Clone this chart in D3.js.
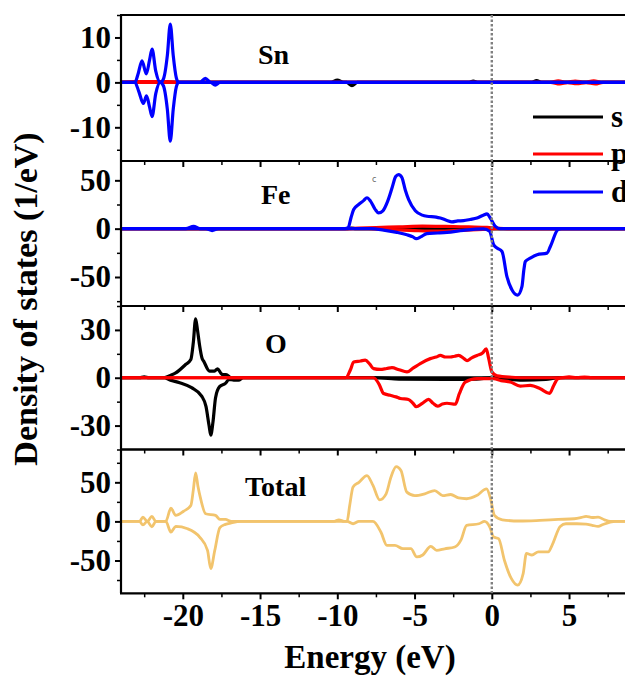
<!DOCTYPE html>
<html>
<head>
<meta charset="utf-8">
<script src="https://cdn.jsdelivr.net/npm/d3@7"></script>
<style>
  html, body { margin: 0; padding: 0; background: #fff; }
  svg { display: block; }
  .lbl { font-family: "Liberation Serif", "Times New Roman", serif; font-weight: bold; fill: #000; }
</style>
</head>
<body>
<svg id="chart" width="625" height="682"></svg>
<script>
// ---- Energy axis ----
const energyDomain = [-24, 10];
const energyTicks = [-20, -15, -10, -5, 0, 5];
const energyMinor = [-22.5, -17.5, -12.5, -7.5, -2.5, 2.5, 7.5];

// ---- Sn projected DOS (spin up > 0, spin down < 0) ----
const snSUp = [[-24,0],[-10.4,0],[-10,0.5],[-9.6,0],[-1.5,0],[-1.2,0.3],[-0.9,0],[2.6,0],[2.9,0.4],[3.2,0],[10,0]];
const snSDown = [[-24,0],[-9.4,0],[-9.05,-0.7],[-8.7,0],[10,0]];
const snPUp = [[-24,0],[-23,0.15],[-21,0.15],[-20,0],[3.8,0],[4.3,0.35],[4.8,0.05],[5.4,0.3],[6,0.05],[6.6,0.35],[7.1,0],[10,0]];
const snPDown = [[-24,0],[3.8,0],[4.4,-0.35],[4.9,-0.05],[5.5,-0.3],[6.1,-0.05],[6.7,-0.35],[7.2,0],[10,0]];
const snDUp = [[-24,0],[-23.1,0],[-22.9,1.8],[-22.64,4.8],[-22.36,1.9],[-22.15,5],[-21.99,7.4],[-21.75,2.5],[-21.46,0],[-21.25,0.8],[-21.0,6],[-20.81,13],[-20.62,6],[-20.42,1],[-20.27,0],[-18.9,0],[-18.54,0.9],[-18.2,0],[10,0]];
const snDDown = [[-24,0],[-23.1,0],[-22.85,-2],[-22.55,-4.7],[-22.35,-3],[-22.15,-5.5],[-21.99,-7.6],[-21.75,-2.5],[-21.46,0],[-21.25,-0.8],[-21.0,-6],[-20.81,-13.1],[-20.62,-6],[-20.42,-1],[-20.27,0],[-18.2,0],[-17.9,-0.6],[-17.6,0],[10,0]];

// ---- Fe projected DOS ----
const feSUp = [[-24,0],[-9.4,0],[-9.1,0.6],[-8.8,0],[10,0]];
const feSDown = [[-24,0],[10,0]];
const fePUp = [[-24,0],[-9.4,0],[-8.6,0.6],[-7.5,1.2],[-6,1.8],[-4.5,2.6],[-3,2.3],[-1.5,1.8],[-0.3,1.4],[0.3,0.6],[1,0],[10,0]];
const fePDown = [[-24,0],[-8,0],[-6.5,-1],[-5,-2],[-3.5,-2.6],[-2,-1.8],[-0.3,-0.6],[0.3,0],[10,0]];
const feDUp = [[-24,0],[-19.8,0],[-19.3,2.5],[-18.9,0],[-9.5,0],[-9.3,1],[-9.1,12],[-8.94,19.8],[-8.62,25],[-8.3,29],[-8.08,32],[-7.85,28.5],[-7.55,20],[-7.33,16.3],[-7.05,18.5],[-6.75,28],[-6.46,42],[-6.22,54],[-6.03,56],[-5.82,53],[-5.6,40],[-5.38,30],[-4.95,18.5],[-4.5,14],[-4.2,12.8],[-3.6,12],[-3.33,11],[-2.9,8.5],[-2.58,7],[-2.2,8],[-1.83,8.3],[-1.4,9.5],[-0.96,11],[-0.55,14],[-0.31,15.3],[-0.1,11],[0.23,2.4],[0.55,0],[10,0]];
const feDDown = [[-24,0],[-18.5,0],[-18.1,-2],[-17.7,0],[-7.8,0],[-7,-1.5],[-6.14,-3.8],[-5.49,-6.3],[-5.1,-8.5],[-4.89,-10.4],[-4.6,-8.5],[-4.2,-5.2],[-3.5,-4.5],[-2.9,-3.8],[-1.83,-1.7],[-0.53,-0.3],[-0.14,-2.8],[0.12,-16.7],[0.34,-20],[0.66,-23.6],[0.98,-49.6],[1.31,-63.5],[1.67,-68.8],[1.95,-60],[2.08,-42],[2.17,-34],[2.49,-30.5],[2.93,-27],[3.57,-25.3],[3.79,-18.4],[4.28,-1],[4.5,0],[10,0]];

// ---- O projected DOS ----
const oSUp = [[-24,0],[-22.8,0],[-22.5,0.6],[-22.2,0],[-21.24,0],[-20.8,1.5],[-20.46,3],[-19.82,8.3],[-19.48,11.4],[-19.32,22],[-19.17,36.9],[-19.05,30],[-18.91,20],[-18.75,12],[-18.65,10.4],[-18.27,4.2],[-17.95,4.2],[-17.75,5.6],[-17.55,3],[-17.44,2],[-17.2,2],[-16.86,0],[10,0]];
const oSDown = [[-24,0],[-21.24,0],[-20.8,-1.5],[-20.2,-3.1],[-19.43,-6.25],[-18.78,-11.5],[-18.5,-18],[-18.3,-30],[-18.19,-36],[-18.05,-28],[-17.88,-12.5],[-17.62,-5.6],[-17.24,-3.5],[-17.0,-1],[-16.7,-1.5],[-16.39,-1.5],[-16.1,0],[-7.5,0],[-6,-0.8],[-3,-1],[-1,-0.8],[0,0],[1,-1],[2,-1.5],[3.5,-1],[4.3,0],[10,0]];
const oPUp = [[-24,0],[-9.45,0],[-9.15,5],[-8.94,9.9],[-8.5,10.5],[-8.19,11],[-7.9,8.5],[-7.65,5.7],[-7.22,5.2],[-6.8,5.8],[-6.46,6.3],[-6,5],[-5.49,3.7],[-5.1,6],[-4.63,8.9],[-3.98,12],[-3.6,13],[-3.33,14],[-3,13],[-2.69,13],[-2.4,13.5],[-2.15,14],[-1.8,12],[-1.6,10.8],[-1.3,12.5],[-0.96,14],[-0.6,15.5],[-0.36,18.2],[-0.2,12],[0.01,3.6],[0.34,1.2],[1.3,0.3],[2,0],[4.5,0],[5,0.5],[5.5,0],[6,0.4],[6.5,0],[10,0]];
const oPDown = [[-24,0],[-7.65,0],[-7.3,-4],[-7.0,-9.9],[-6.57,-11],[-6.2,-12],[-5.92,-13],[-5.39,-13.6],[-5.1,-16],[-4.89,-18.2],[-4.5,-16],[-4.09,-13.6],[-3.8,-16],[-3.51,-17.8],[-3.2,-16.5],[-2.9,-16],[-2.36,-16.6],[-2.1,-10],[-1.72,-2.8],[-0.96,-0.6],[0.12,-0.6],[0.6,-1.8],[1.2,-2.7],[1.84,-5.2],[2.49,-4.8],[3.14,-6.9],[3.74,-9.8],[4.0,-5],[4.28,-0.6],[4.6,0],[10,0]];

// ---- Total DOS ----
const totUp = [[-24,0],[-22.8,0],[-22.58,5.5],[-22.3,0],[-22.0,6.4],[-21.75,0],[-21.1,0],[-20.77,17],[-20.46,7.7],[-19.95,13],[-19.48,20.4],[-19.32,40],[-19.17,62],[-19.02,45],[-18.87,31],[-18.52,9.8],[-17.88,7.7],[-17.6,2.5],[-17.24,2.5],[-16.86,0],[-10.2,0],[-9.9,2],[-9.55,0],[-9.37,0],[-9.2,20],[-8.98,44],[-8.6,50],[-8.08,58.7],[-7.69,46],[-7.26,27.6],[-6.84,35.3],[-6.53,56.5],[-6.19,70],[-5.88,65],[-5.5,37.4],[-4.98,33],[-4.34,35.3],[-3.7,39.5],[-3.18,33],[-2.66,34.4],[-2.15,30],[-1.63,29],[-0.98,33],[-0.34,41.7],[-0.08,29],[0.17,7.7],[0.68,2],[1.8,0.5],[3.1,1.3],[4.3,2.5],[5.34,3.4],[5.8,5],[6.1,6.4],[6.5,5],[6.88,5.5],[7.3,2],[7.66,0],[10,0]];
const totDown = [[-24,0],[-22.8,0],[-22.58,-4.5],[-22.3,0],[-22.0,-7],[-21.75,0],[-21.1,0],[-20.77,-13.6],[-20.46,-6.4],[-19.69,-9.4],[-18.91,-20],[-18.4,-37],[-18.19,-60.4],[-17.93,-37],[-17.6,-8],[-17.24,-3.8],[-16.86,-2],[-16.3,0],[-9.37,0],[-8.98,-3],[-8.6,0],[-7.69,0],[-7.18,-13.6],[-6.79,-30.6],[-6.27,-30.6],[-5.76,-34.9],[-5.24,-34.9],[-4.85,-45.5],[-4.47,-43],[-3.95,-32],[-3.57,-37],[-3.05,-35],[-2.4,-32.7],[-2.0,-24],[-1.63,-5],[-0.83,-3],[-0.47,0],[-0.13,-7.2],[0.12,-20],[0.44,-22],[0.82,-50],[1.26,-73],[1.67,-81.6],[2.03,-66.8],[2.24,-41],[2.6,-43],[3.01,-39],[3.66,-39],[3.9,-30.6],[4.43,-6.4],[4.8,-3],[5.5,-3],[6.1,-3.5],[6.5,-5],[6.88,-6.4],[7.2,-4],[7.66,-1],[8,0],[10,0]];

// ---- Series colours and labels ----
const orbitalNames = ["s", "p", "d"];
const orbitalColors = ["#000000", "#ff0000", "#0000ff"];
const totalColor = "#f2c46d";

const panels = [
  { name: "Sn", top: 15, bottom: 161, domain: [-17.5, 15], major: [-10, 0, 10], minor: [-15, -5, 5, 15],
    label: [258, 64],
    series: [[snSUp, 0], [snSDown, 0], [snPUp, 1], [snPDown, 1], [snDUp, 2], [snDDown, 2]] },
  { name: "Fe", top: 161, bottom: 306, domain: [-80, 70], major: [-50, 0, 50], minor: [-75, -25, 25],
    label: [261, 204],
    series: [[feSUp, 0], [feSDown, 0], [fePUp, 1], [fePDown, 1], [feDUp, 2], [feDDown, 2]] },
  { name: "O", top: 306, bottom: 449.5, domain: [-45, 45], major: [-30, 0, 30], minor: [-45, -15, 15, 45],
    label: [265, 353],
    series: [[oSUp, 0], [oSDown, 0], [oPUp, 1], [oPDown, 1]] },
  { name: "Total", top: 449.5, bottom: 593.3, domain: [-92, 92], major: [-50, 0, 50], minor: [-75, -25, 25, 75],
    label: [245, 496],
    series: [[totUp, -1], [totDown, -1]] }
];

const svg = d3.select("#chart");
const x = d3.scaleLinear().domain(energyDomain).range([121, 121 + 34 * 15.45]);
const xRight = x.range()[1];

panels.forEach((p, i) => {
  const y = d3.scaleLinear().domain(p.domain).range([p.bottom, p.top]);
  const g = svg.append("g");

  const clipId = "clip" + i;
  svg.append("clipPath").attr("id", clipId)
    .append("rect").attr("x", x.range()[0]).attr("y", p.top)
    .attr("width", xRight - x.range()[0]).attr("height", p.bottom - p.top);

  const line = d3.line().x(d => x(d[0])).y(d => y(d[1])).curve(d3.curveMonotoneX);
  const curves = g.append("g").attr("clip-path", `url(#${clipId})`);
  p.series.forEach(([data, k]) => {
    curves.append("path").datum(data)
      .attr("d", line)
      .attr("fill", "none")
      .attr("stroke", k < 0 ? totalColor : orbitalColors[k])
      .attr("stroke-width", k < 0 ? 2.8 : 3.2)
      .attr("stroke-linejoin", "round");
  });

  // left axis: major + minor ticks
  const yAxis = d3.axisLeft(y).tickValues(p.major).tickSize(6).tickPadding(4).tickFormat(d => String(d));
  const ya = g.append("g").attr("transform", `translate(${x.range()[0]},0)`).call(yAxis);
  ya.select(".domain").remove();
  ya.selectAll("line").attr("stroke", "#000").attr("stroke-width", 2);
  ya.selectAll("text").attr("class", "lbl").attr("font-size", 31).attr("fill", "#000");
  const yMinor = d3.axisLeft(y).tickValues(p.minor.filter(v => v >= p.domain[0] && v <= p.domain[1])).tickSize(4).tickFormat("");
  const ym = g.append("g").attr("transform", `translate(${x.range()[0]},0)`).call(yMinor);
  ym.select(".domain").remove();
  ym.selectAll("line").attr("stroke", "#000").attr("stroke-width", 1.5);

  // bottom axis: ticks outward, labels only on the last panel
  const last = i === panels.length - 1;
  const xAxis = d3.axisBottom(x).tickValues(energyTicks).tickSize(6).tickPadding(5)
    .tickFormat(last ? (d => String(d)) : "");
  const xa = g.append("g").attr("transform", `translate(0,${p.bottom})`).call(xAxis);
  xa.select(".domain").remove();
  xa.selectAll("line").attr("stroke", "#000").attr("stroke-width", 2);
  xa.selectAll("text").attr("class", "lbl").attr("font-size", 31).attr("fill", "#000");
  const xMinor = d3.axisBottom(x).tickValues(energyMinor).tickSize(4).tickFormat("");
  const xm = g.append("g").attr("transform", `translate(0,${p.bottom})`).call(xMinor);
  xm.select(".domain").remove();
  xm.selectAll("line").attr("stroke", "#000").attr("stroke-width", 1.5);

  // frame
  g.append("line").attr("x1", x.range()[0]).attr("x2", x.range()[0]).attr("y1", p.top).attr("y2", p.bottom)
    .attr("stroke", "#000").attr("stroke-width", 2.2);
  g.append("line").attr("x1", x.range()[0] - 1).attr("x2", xRight).attr("y1", p.top).attr("y2", p.top)
    .attr("stroke", "#000").attr("stroke-width", 2.2);
  g.append("line").attr("x1", x.range()[0] - 1).attr("x2", xRight).attr("y1", p.bottom).attr("y2", p.bottom)
    .attr("stroke", "#000").attr("stroke-width", 2.2);

  // panel title
  g.append("text").attr("class", "lbl").attr("x", p.label[0]).attr("y", p.label[1])
    .attr("font-size", 28).text(p.name);
});

// Fermi level marker
svg.append("line")
  .attr("x1", x(0)).attr("x2", x(0))
  .attr("y1", panels[0].top).attr("y2", panels[panels.length - 1].bottom)
  .attr("stroke", "#808080").attr("stroke-width", 2.4).attr("stroke-dasharray", "2.5,2");

// stray mark in the Fe panel
svg.append("text").attr("x", 372).attr("y", 182).attr("font-size", 8)
  .attr("font-family", "DejaVu Sans, sans-serif").attr("fill", "#666").text("c");

// legend
const legendY = [117, 154, 192];
const legend = svg.append("g");
orbitalNames.forEach((n, k) => {
  legend.append("line").attr("x1", 533).attr("x2", 603).attr("y1", legendY[k]).attr("y2", legendY[k])
    .attr("stroke", orbitalColors[k]).attr("stroke-width", 3.2);
  legend.append("text").attr("class", "lbl").attr("x", 611).attr("y", legendY[k]).attr("dy", "0.33em")
    .attr("font-size", 31).text(n);
});

// axis titles
svg.append("text").attr("class", "lbl").attr("x", 370).attr("y", 668)
  .attr("text-anchor", "middle").attr("font-size", 33).text("Energy (eV)");
svg.append("text").attr("class", "lbl")
  .attr("transform", "translate(37,299) rotate(-90)")
  .attr("text-anchor", "middle").attr("font-size", 34).text("Density of states (1/eV)");
</script>
</body>
</html>
